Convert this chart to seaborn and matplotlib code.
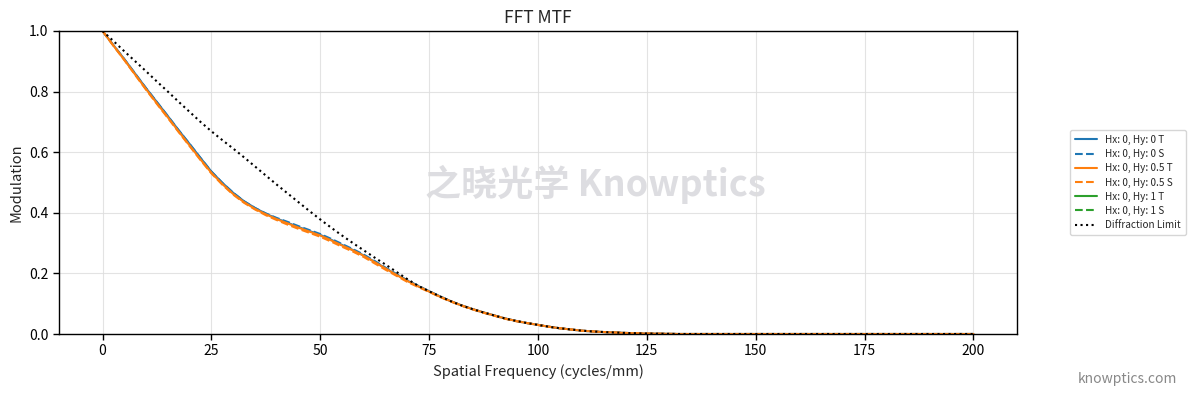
import numpy as np
import pandas as pd
import matplotlib
matplotlib.use("Agg")
import matplotlib.pyplot as plt
import seaborn as sns

# ---------------- data ----------------
freq = [i * 2.5 for i in range(81)]  # 0 .. 200 cycles/mm

hy0_T = [1.0, 0.953, 0.907, 0.859, 0.811, 0.765, 0.719, 0.672, 0.627, 0.581,
         0.536, 0.499, 0.466, 0.438, 0.416, 0.397, 0.381, 0.367, 0.353, 0.340,
         0.327, 0.311, 0.294, 0.277, 0.259, 0.238, 0.217, 0.196, 0.176, 0.158,
         0.141, 0.124, 0.108, 0.094, 0.082, 0.071, 0.061, 0.051, 0.043, 0.036,
         0.030, 0.024, 0.019, 0.015, 0.011, 0.0085, 0.0065, 0.005, 0.0035, 0.0025,
         0.0015, 0.001, 0.0005] + [0.0] * 28
hy0_S = [1.0, 0.953, 0.907, 0.859, 0.811, 0.765, 0.719, 0.672, 0.627, 0.581,
         0.536, 0.499, 0.466, 0.438, 0.416, 0.398, 0.383, 0.370, 0.356, 0.343,
         0.330, 0.314, 0.297, 0.280, 0.262, 0.241, 0.219, 0.198, 0.177, 0.159,
         0.141, 0.124, 0.108, 0.094, 0.082, 0.071, 0.061, 0.051, 0.043, 0.036,
         0.030, 0.024, 0.019, 0.015, 0.011, 0.0085, 0.0065, 0.005, 0.0035, 0.0025,
         0.0015, 0.001, 0.0005] + [0.0] * 28
hy05_T = [1.0, 0.952, 0.905, 0.856, 0.808, 0.761, 0.715, 0.668, 0.622, 0.576,
          0.532, 0.495, 0.462, 0.435, 0.413, 0.395, 0.379, 0.365, 0.351, 0.338,
          0.325, 0.309, 0.292, 0.276, 0.258, 0.237, 0.216, 0.195, 0.175, 0.157,
          0.140, 0.123, 0.108, 0.094, 0.082, 0.071, 0.061, 0.051, 0.043, 0.036,
          0.030, 0.024, 0.019, 0.015, 0.011, 0.0085, 0.0065, 0.005, 0.0035, 0.0025,
          0.0015, 0.001, 0.0005] + [0.0] * 28
hy05_S = [1.0, 0.951, 0.904, 0.855, 0.806, 0.759, 0.713, 0.666, 0.620, 0.574,
          0.530, 0.493, 0.460, 0.433, 0.411, 0.392, 0.376, 0.361, 0.347, 0.334,
          0.321, 0.305, 0.288, 0.272, 0.254, 0.233, 0.212, 0.192, 0.172, 0.155,
          0.139, 0.122, 0.107, 0.093, 0.081, 0.070, 0.060, 0.050, 0.042, 0.036,
          0.030, 0.024, 0.019, 0.015, 0.011, 0.0085, 0.0065, 0.005, 0.0035, 0.0025,
          0.0015, 0.001, 0.0005] + [0.0] * 28
hy1_T = []
hy1_S = []
diffraction = [1.0, 0.967, 0.933, 0.900, 0.867, 0.833, 0.800, 0.766, 0.733, 0.700,
               0.669, 0.640, 0.612, 0.583, 0.553, 0.523, 0.493, 0.464, 0.435, 0.406,
               0.378, 0.351, 0.325, 0.300, 0.276, 0.252, 0.229, 0.205, 0.181, 0.159,
               0.141, 0.124, 0.108, 0.094, 0.082, 0.071, 0.061, 0.051, 0.043, 0.036,
               0.030, 0.024, 0.019, 0.015, 0.011, 0.0085, 0.0065, 0.005, 0.0035, 0.0025,
               0.0015, 0.001, 0.0005] + [0.0] * 28

series = [
    ("Hx: 0, Hy: 0 T", hy0_T, "#1f77b4", "-"),
    ("Hx: 0, Hy: 0 S", hy0_S, "#1f77b4", "--"),
    ("Hx: 0, Hy: 0.5 T", hy05_T, "#ff7f0e", "-"),
    ("Hx: 0, Hy: 0.5 S", hy05_S, "#ff7f0e", "--"),
    ("Hx: 0, Hy: 1 T", hy1_T, "#2ca02c", "-"),
    ("Hx: 0, Hy: 1 S", hy1_S, "#2ca02c", "--"),
]

# ---------------- style ----------------
sns.set_style("white")
plt.rcParams['font.family'] = ['Noto Sans CJK SC', 'DejaVu Sans']
plt.rcParams['axes.unicode_minus'] = False

fig = plt.figure(figsize=(11.91, 3.97), dpi=100)
ax = fig.add_axes([59 / 1191, 1 - 334 / 397, (1017 - 59) / 1191, (334 - 31) / 397])
ax.set_axisbelow(True)

for label, vals, color, ls in series:
    if len(vals) > 0:
        sns.lineplot(x=freq[:len(vals)], y=vals, ax=ax, color=color,
                     linestyle=ls, linewidth=1.5, label=label)
    else:
        ax.plot([], [], color=color, linestyle=ls, linewidth=1.5, label=label)

sns.lineplot(x=freq, y=diffraction, ax=ax, color="black", linestyle=":",
             linewidth=1.5, label="Diffraction Limit")

ax.set_xlim(-10, 210)
ax.set_ylim(0, 1)
ax.set_xticks(range(0, 201, 25))
ax.set_yticks([0.0, 0.2, 0.4, 0.6, 0.8, 1.0])
ax.grid(True, color="#dddddd", linewidth=0.8, alpha=0.8)
for s in ax.spines.values():
    s.set_color("black")
    s.set_linewidth(1.0)
ax.tick_params(axis="both", direction="out", length=4, width=1, colors="black",
               labelsize=10, bottom=True, left=True)
ax.set_xlabel("Spatial Frequency (cycles/mm)", fontsize=10.5)
ax.set_ylabel("Modulation", fontsize=10.5)
ax.set_title("FFT MTF", fontsize=12.5)

leg = ax.legend(loc="center left", bbox_to_anchor=(1.05, 0.5), fontsize=7.2,
                frameon=True, handlelength=2.2, borderpad=0.5, labelspacing=0.42)
leg.get_frame().set_edgecolor("#cccccc")

ax.text(0.5, 0.535, "之晓光学 Knowptics", fontsize=26, fontweight="bold",
        color="#d8d8dc", alpha=0.85, ha="center", va="center", zorder=0,
        transform=fig.transFigure)
fig.text(0.988, 0.045, "knowptics.com", fontsize=10, color="#888888",
         ha="right", va="center")

fig.savefig("out.png", dpi=100)
